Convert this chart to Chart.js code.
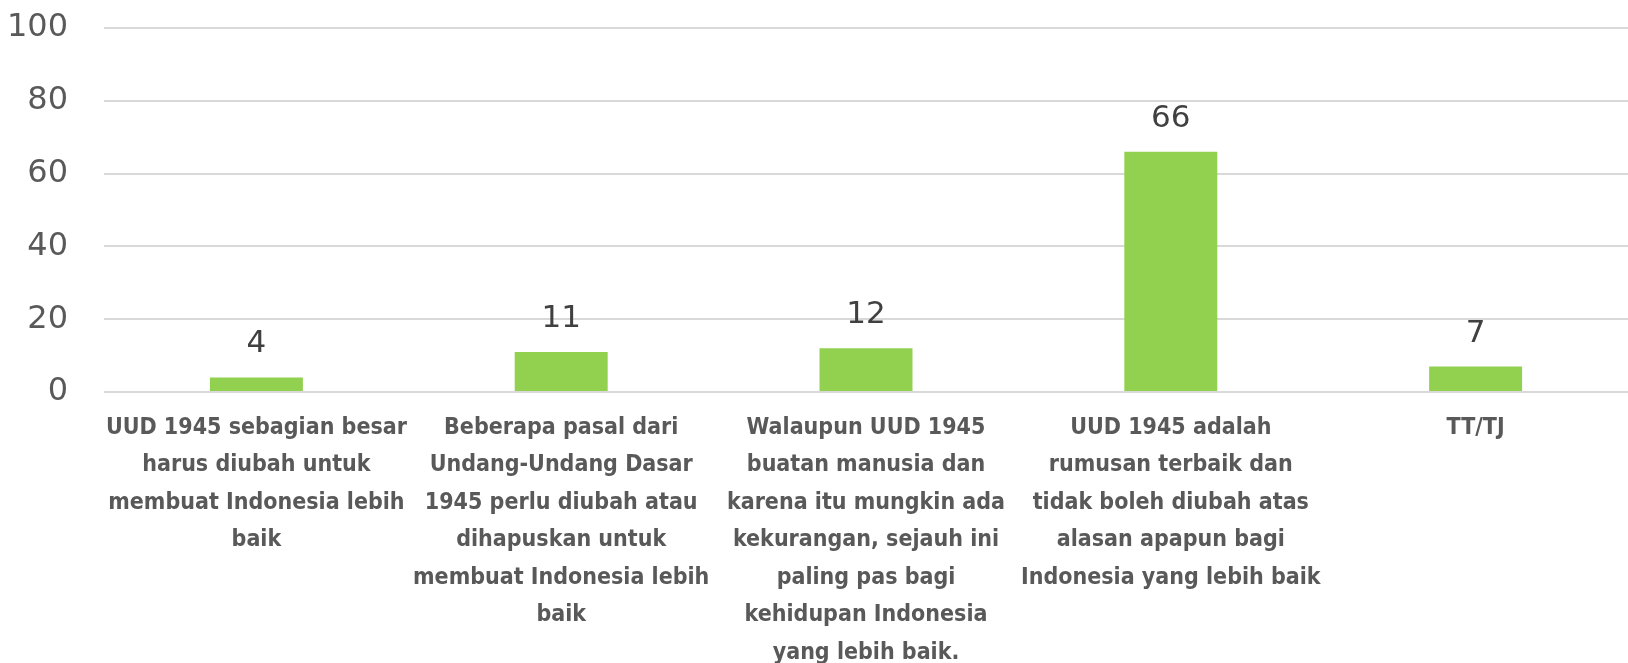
<!DOCTYPE html>
<html lang="id">
  <head>
    <meta charset="UTF-8" />
    <title>Sikap terhadap UUD 1945</title>
    <script src="https://cdn.jsdelivr.net/npm/chart.js"></script>
    <style>
      html, body { margin: 0; padding: 0; background: #fff; }
      #wrap { width: 1628px; height: 663px; }
    </style>
  </head>
  <body>
    <div id="wrap"><canvas id="chart"></canvas></div>
    <script>
      // data
      const categories = [
        ["UUD 1945 sebagian besar", "harus diubah untuk", "membuat Indonesia lebih", "baik"],
        ["Beberapa pasal dari", "Undang-Undang Dasar", "1945 perlu diubah atau", "dihapuskan untuk", "membuat Indonesia lebih", "baik"],
        ["Walaupun UUD 1945", "buatan manusia dan", "karena itu mungkin ada", "kekurangan, sejauh ini", "paling pas bagi", "kehidupan Indonesia", "yang lebih baik."],
        ["UUD 1945 adalah", "rumusan terbaik dan", "tidak boleh diubah atas", "alasan apapun bagi", "Indonesia yang lebih baik"],
        ["TT/TJ"]
      ];
      const values = [4, 11, 12, 66, 7];
      const yTicks = [0, 20, 40, 60, 80, 100];

      // value labels above the bars
      const valueLabels = {
        id: "valueLabels",
        afterDatasetsDraw(chart) {
          const ctx = chart.ctx;
          const meta = chart.getDatasetMeta(0);
          ctx.save();
          ctx.font = "31px 'DejaVu Sans'";
          ctx.fillStyle = "#404040";
          ctx.textAlign = "center";
          ctx.textBaseline = "alphabetic";
          meta.data.forEach((bar, i) => {
            ctx.fillText(String(values[i]), bar.x, bar.y - 25);
          });
          ctx.restore();
        }
      };

      new Chart(document.getElementById("chart"), {
        type: "bar",
        data: {
          labels: categories,
          datasets: [{
            data: values,
            backgroundColor: "#92D050",
            borderWidth: 0,
            categoryPercentage: 1,
            barPercentage: 0.305
          }]
        },
        options: {
          responsive: true,
          maintainAspectRatio: false,
          animation: false,
          layout: { padding: { top: 28, right: 0, left: 0, bottom: 0 } },
          plugins: { legend: { display: false }, tooltip: { enabled: false } },
          scales: {
            x: {
              afterFit(scale) { scale.height = 271; },
              grid: { display: false, drawTicks: false },
              border: { display: false },
              ticks: {
                maxRotation: 0,
                autoSkip: false,
                padding: 17,
                color: "#595959",
                font: { family: "'DejaVu Sans Condensed'", size: 23, weight: "bold", lineHeight: 1.63 }
              }
            },
            y: {
              min: 0,
              max: 100,
              afterBuildTicks(axis) { axis.ticks = yTicks.map(v => ({ value: v })); },
              afterFit(scale) { scale.width = 104; },
              grid: { color: "#d9d9d9", lineWidth: 2, drawTicks: true, tickLength: 36, tickColor: "rgba(0,0,0,0)" },
              border: { display: false },
              ticks: {
                padding: 0,
                color: "#595959",
                font: { family: "'DejaVu Sans'", size: 32 }
              }
            }
          }
        },
        plugins: [valueLabels]
      });
    </script>
  </body>
</html>
